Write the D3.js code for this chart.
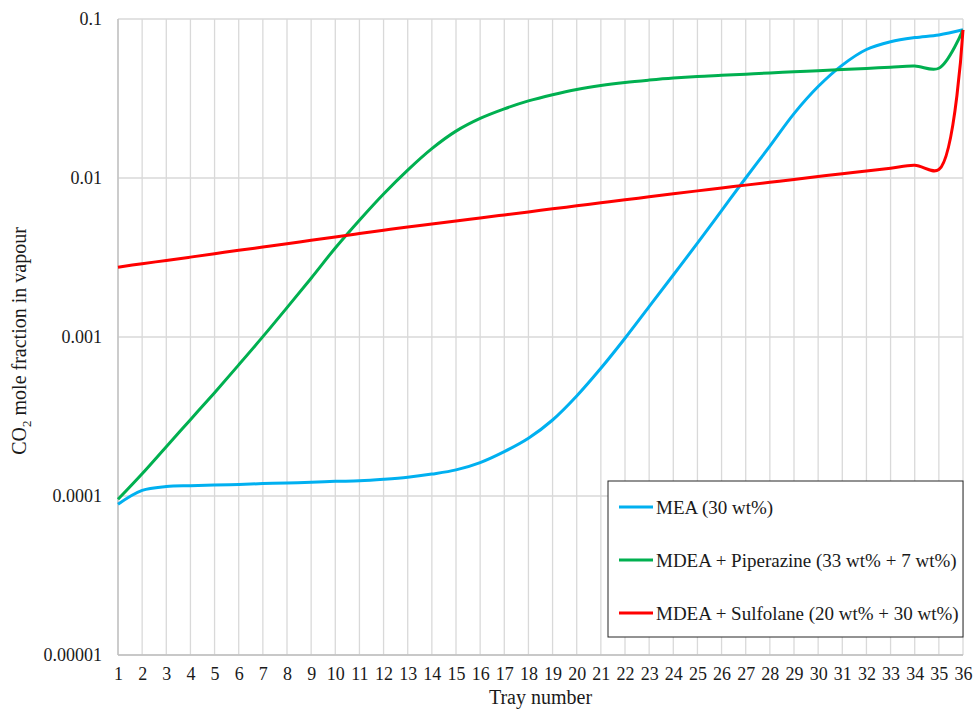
<!DOCTYPE html>
<html>
<head>
<meta charset="utf-8">
<script src="https://cdn.jsdelivr.net/npm/d3@7"></script>
<style>
  body { margin: 0; background: #fff; }
  text { font-family: "Liberation Serif", "DejaVu Serif", serif; fill: #1a1a1a; }
</style>
</head>
<body>
<div id="chart"></div>
<script>
// tray numbers 1..36
var trays = d3.range(1, 37);

// CO2 mole fraction in vapour per tray
var mea = [8.87e-5, 1.084e-4, 1.146e-4, 1.161e-4, 1.172e-4, 1.183e-4, 1.197e-4, 1.208e-4, 1.219e-4, 1.236e-4,
  1.247e-4, 1.274e-4, 1.312e-4, 1.374e-4, 1.459e-4, 1.622e-4, 1.901e-4, 2.307e-4, 3.006e-4, 4.256e-4,
  6.353e-4, 9.817e-4, 1.552e-3, 2.455e-3, 3.890e-3, 6.237e-3, 0.0100, 0.01585, 0.0254, 0.0376,
  0.0513, 0.0643, 0.0719, 0.0764, 0.0794, 0.0855];

var mdeaPz = [9.53e-5, 1.380e-4, 2.042e-4, 3.020e-4, 4.467e-4, 6.68e-4, 1.005e-3, 1.531e-3, 2.344e-3, 3.631e-3,
  5.43e-3, 7.94e-3, 0.01122, 0.01531, 0.01972, 0.02371, 0.02723, 0.03055, 0.03342, 0.03606,
  0.03819, 0.03990, 0.04130, 0.04256, 0.04355, 0.04426, 0.04498, 0.04581, 0.04656, 0.04732,
  0.04808, 0.04887, 0.04977, 0.05058, 0.0490, 0.0855];

var mdeaSulf = [0.00275, 0.00289, 0.00303, 0.00318, 0.00334, 0.00351, 0.00368, 0.00386, 0.00406, 0.00426,
  0.00447, 0.00469, 0.00492, 0.00514, 0.00537, 0.00561, 0.00586, 0.00612, 0.00640, 0.00668,
  0.00698, 0.00729, 0.00762, 0.00796, 0.00830, 0.00865, 0.00902, 0.00940, 0.00980, 0.01021,
  0.01064, 0.01107, 0.01153, 0.01202, 0.01130, 0.0855];

var seriesNames = ["MEA (30 wt%)", "MDEA + Piperazine (33 wt% + 7 wt%)", "MDEA + Sulfolane (20 wt% + 30 wt%)"];
var seriesColors = ["#00b0f0", "#00b050", "#ff0000"];
var yTicks = [0.00001, 0.0001, 0.001, 0.01, 0.1];
var yTickLabels = ["0.00001", "0.0001", "0.001", "0.01", "0.1"];

var width = 976, height = 711;
var margin = {top: 19, right: 13, bottom: 56, left: 118};

var svg = d3.select("#chart").append("svg")
    .attr("width", width)
    .attr("height", height);

var x = d3.scaleLinear()
    .domain([1, 36])
    .range([margin.left, width - margin.right]);

var y = d3.scaleLog()
    .domain([0.00001, 0.1])
    .range([height - margin.bottom, margin.top]);

// vertical gridlines, one per tray
svg.append("g")
    .selectAll("line")
    .data(trays)
    .enter().append("line")
      .attr("x1", d => x(d)).attr("x2", d => x(d))
      .attr("y1", y(0.1)).attr("y2", y(0.00001))
      .attr("stroke", "#d9d9d9")
      .attr("stroke-width", 1.3);

// horizontal gridlines at each decade
svg.append("g")
    .selectAll("line")
    .data(yTicks)
    .enter().append("line")
      .attr("x1", x(1)).attr("x2", x(36))
      .attr("y1", d => y(d)).attr("y2", d => y(d))
      .attr("stroke", "#d9d9d9")
      .attr("stroke-width", 1.3);

// axis lines
svg.append("line")
    .attr("x1", x(1)).attr("x2", x(1))
    .attr("y1", y(0.1)).attr("y2", y(0.00001))
    .attr("stroke", "#bfbfbf").attr("stroke-width", 1.3);
svg.append("line")
    .attr("x1", x(1)).attr("x2", x(36))
    .attr("y1", y(0.00001)).attr("y2", y(0.00001))
    .attr("stroke", "#bfbfbf").attr("stroke-width", 1.3);

// tick labels
var xAxis = svg.append("g")
    .attr("transform", "translate(0," + (height - margin.bottom) + ")")
    .call(d3.axisBottom(x).tickValues(trays).tickFormat(d3.format("d")).tickSize(0).tickPadding(12));
var yAxis = svg.append("g")
    .attr("transform", "translate(" + margin.left + ",0)")
    .call(d3.axisLeft(y).tickValues(yTicks).tickFormat((d, i) => yTickLabels[i]).tickSize(0).tickPadding(16));
[xAxis, yAxis].forEach(function(a) {
  a.select(".domain").remove();
  a.selectAll("text")
    .attr("font-family", "\"Liberation Serif\", serif")
    .attr("font-size", 18)
    .attr("fill", "#1a1a1a");
});

// lines
var line = d3.line()
    .x((d, i) => x(trays[i]))
    .y(d => y(d))
    .curve(d3.curveCatmullRom.alpha(0.5));

[mea, mdeaPz, mdeaSulf].forEach(function(s, i) {
  svg.append("path")
      .datum(s)
      .attr("d", line)
      .attr("fill", "none")
      .attr("stroke", seriesColors[i])
      .attr("stroke-width", 3)
      .attr("stroke-linejoin", "round");
});

// axis titles
svg.append("text")
    .attr("x", (x(1) + x(36)) / 2)
    .attr("y", 704)
    .attr("text-anchor", "middle")
    .attr("font-size", 20)
    .text("Tray number");

var yTitle = svg.append("text")
    .attr("transform", "translate(26," + ((y(0.00001) + y(0.1)) / 2 + 4) + ") rotate(-90)")
    .attr("text-anchor", "middle")
    .attr("font-size", 20);
yTitle.append("tspan").text("CO");
yTitle.append("tspan").attr("font-size", 13).attr("dy", 5).text("2");
yTitle.append("tspan").attr("dy", -5).text(" mole fraction in vapour");

// legend
var legend = svg.append("g").attr("transform", "translate(608,481)");
legend.append("rect")
    .attr("width", 355).attr("height", 156)
    .attr("fill", "#fff")
    .attr("stroke", "#262626")
    .attr("stroke-width", 1);
var items = legend.selectAll("g.item")
    .data(seriesNames)
    .enter().append("g")
      .attr("class", "item")
      .attr("transform", (d, i) => "translate(0," + (26 + i * 53) + ")");
items.append("line")
    .attr("x1", 11).attr("x2", 45)
    .attr("stroke", (d, i) => seriesColors[i])
    .attr("stroke-width", 3);
items.append("text")
    .attr("x", 48)
    .attr("dy", "0.35em")
    .attr("font-size", 19)
    .text(d => d);
</script>
</body>
</html>
